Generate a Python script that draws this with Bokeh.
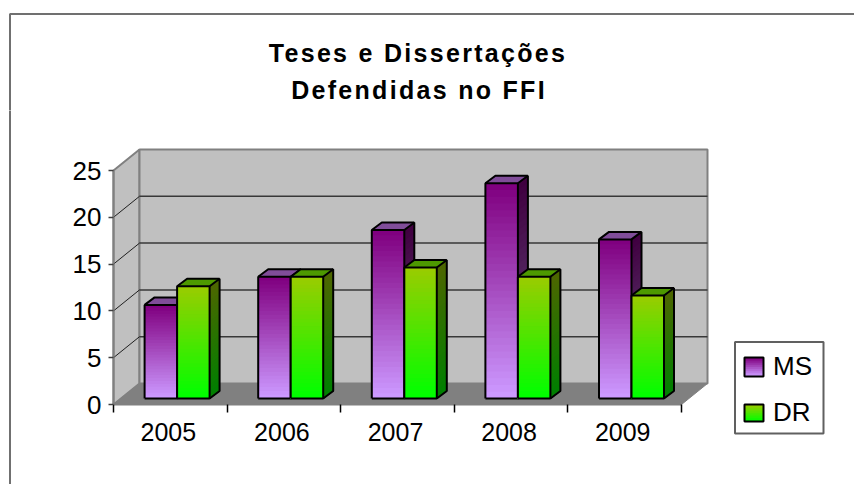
from bokeh.plotting import figure
from bokeh.models import (Range1d, LinearAxis, FixedTicker, Legend, LegendItem, BoxAnnotation, Label)
from bokeh.layouts import column
from bokeh.embed import file_html
from bokeh.resources import INLINE

TITLE_LINES = ["Teses e Dissertações", "Defendidas no FFI"]
YEARS = ["2005", "2006", "2007", "2008", "2009"]
MS = [10, 13, 18, 23, 17]
DR = [12, 13, 14, 13, 11]
Y_TICKS = [0, 5, 10, 15, 20, 25]

FONT = "Liberation Sans"
PX_X, PX_Y = 113.6, 9.36         # pixels per data unit
ORIGIN_X, ORIGIN_Y = 113, 404    # page pixels of the data origin
W, H = 854, 484
TITLE_H = 110

def dx(px): return px / PX_X
def dy(px): return px / PX_Y
def X(px): return (px - ORIGIN_X) / PX_X
def Y(py): return (ORIGIN_Y - py) / PX_Y

def hexmix(a, b, t):
    ca = [int(a[i:i+2], 16) for i in (1, 3, 5)]
    cb = [int(b[i:i+2], 16) for i in (1, 3, 5)]
    return "#%02x%02x%02x" % tuple(round(u + (v - u) * t) for u, v in zip(ca, cb))

def base_fig(h, y_top, y_bottom):
    f = figure(width=W, height=h, output_backend="svg", toolbar_location=None,
               x_range=Range1d(X(0), X(W)), y_range=Range1d(Y(y_bottom), Y(y_top)),
               x_axis_type=None, y_axis_type=None,
               min_border=0, min_border_left=0, min_border_right=0, min_border_top=0, min_border_bottom=0,
               outline_line_color=None, background_fill_color="white", border_fill_color="white")
    f.grid.visible = False
    return f

# title figure (carries the wide letter spacing of the reference title)
t = base_fig(TITLE_H, 0, TITLE_H)
t.styles = {"letter-spacing": "2.3px"}
for line, yc, xc in zip(TITLE_LINES, (52, 89), (394.5, 399)):
    t.add_layout(Label(x=X(xc), y=Y(yc), text=line, text_align="center", text_baseline="middle",
                       text_font=FONT, text_font_style="bold", text_font_size="25px", text_color="black"))
t.add_layout(BoxAnnotation(left=X(9.5), right=X(870), top=Y(13.5), bottom=Y(500), fill_alpha=0,
                           line_color="#707070", line_width=2, line_alpha=1))

p = base_fig(H - TITLE_H, TITLE_H, H)

# walls and floor
WALL_DX, WALL_DY = dx(26), dy(21)
top = 25
p.patch([0, WALL_DX, WALL_DX, 0], [0, WALL_DY, top + WALL_DY, top], fill_color="#c0c0c0", line_color="#808080", line_width=2)
p.patch([WALL_DX, 5 + WALL_DX, 5 + WALL_DX, WALL_DX], [WALL_DY, WALL_DY, top + WALL_DY, top + WALL_DY],
        fill_color="#c0c0c0", line_color="#808080", line_width=2)
p.patch([0, 5, 5 + WALL_DX, WALL_DX], [0, 0, WALL_DY, WALL_DY], fill_color="#808080", line_color="#808080", line_width=1)
for v in Y_TICKS[1:-1]:
    p.line([WALL_DX, 5 + WALL_DX], [v + WALL_DY, v + WALL_DY], line_color="#383838", line_width=1.5)
    p.line([0, WALL_DX], [v, v + WALL_DY], line_color="#202020", line_width=1)

# axes, fixed at the front edge of the floor
yax = LinearAxis(ticker=FixedTicker(ticks=Y_TICKS), bounds=(0, 25), fixed_location=0,
                 axis_line_color="#808080", axis_line_width=2,
                 major_tick_line_color="#404040", major_tick_line_width=1.5,
                 major_tick_out=5, major_tick_in=0, minor_tick_line_color=None,
                 major_label_text_font=FONT, major_label_text_font_size="26px",
                 major_label_text_color="black", major_label_standoff=7)
p.add_layout(yax, "left")
centers = [i + 0.5 for i in range(len(YEARS))]
label_ticks = [c - dx(2) for c in centers]
xax = LinearAxis(ticker=FixedTicker(ticks=label_ticks, minor_ticks=list(range(len(YEARS) + 1))),
                 bounds=(0, len(YEARS)), fixed_location=0,
                 major_label_overrides={c: y for c, y in zip(label_ticks, YEARS)},
                 axis_line_color="#808080", axis_line_width=2,
                 major_tick_line_color=None, major_tick_out=0, major_tick_in=0,
                 minor_tick_line_color="black", minor_tick_out=8, minor_tick_in=0, minor_tick_line_width=1.5,
                 major_label_text_font=FONT, major_label_text_font_size="25px",
                 major_label_text_color="black", major_label_standoff=10)
p.add_layout(xax, "below")

# bars
BAR_W = dx(32.5)
BAR_OX, BAR_OY = dx(6.8), dy(6)
TOP_DX, TOP_DY = dx(10), dy(7.5)
STRIPS = 32
MS_COL = dict(front=("#800080", "#cc99ff"), side=("#400040", "#664d80"), top=("#804d99", "#8c5aa5"))
DR_COL = dict(front=("#99cc00", "#00ff00"), side=("#4d6600", "#008000"), top=("#4d9900", "#59a600"))

def bar(x0, val, col):
    x1 = x0 + BAR_W
    b = BAR_OY
    tp = b + val
    for i in range(STRIPS):
        f = i / (STRIPS - 1)
        ti = tp - val * i / STRIPS
        p.quad(left=x0, right=x1, bottom=b, top=ti, fill_color=hexmix(*col["front"], f), line_color=None)
        p.patch([x1, x1 + TOP_DX, x1 + TOP_DX, x1], [b, b + TOP_DY, ti + TOP_DY, ti],
                fill_color=hexmix(*col["side"], f), line_color=None)
    p.patch([x0, x1, x1 + TOP_DX, x0 + TOP_DX], [tp, tp, tp + TOP_DY, tp + TOP_DY],
            fill_color=col["top"][0], line_color=None)
    p.multi_line([[x0, x1, x1, x0, x0], [x1, x1 + TOP_DX, x1 + TOP_DX, x1],
                  [x0, x0 + TOP_DX, x1 + TOP_DX]],
                 [[b, b, tp, tp, b], [b, b + TOP_DY, tp + TOP_DY, tp], [tp, tp + TOP_DY, tp + TOP_DY]],
                 line_color="black", line_width=2)

for i in range(len(YEARS)):
    mid = centers[i] + BAR_OX
    bar(mid - BAR_W, MS[i], MS_COL)
    bar(mid, DR[i], DR_COL)

# legend box, drawn under the legend's own texts
p.add_layout(BoxAnnotation(left=X(734.5), right=X(823), top=Y(341.5), bottom=Y(433), fill_color="white", fill_alpha=1,
                           line_color="#606060", line_width=2, line_alpha=1))

def swatch(l, tp, r, b, cols):
    n = 10
    for i in range(n):
        y0 = tp + (b - tp) * i / n
        p.add_layout(BoxAnnotation(left=X(l), right=X(r), top=Y(y0), bottom=Y(b),
                                   fill_color=hexmix(*cols, i / (n - 1)), fill_alpha=1, line_color=None))
    p.add_layout(BoxAnnotation(left=X(l), right=X(r), top=Y(tp), bottom=Y(b), fill_alpha=0,
                               line_color="black", line_width=2, line_alpha=1))
swatch(744, 357, 763, 376, MS_COL["front"])
swatch(744, 404, 763, 421, DR_COL["front"])

# the legend's own keys are see-through: the gradient swatches above show through them
ms_key = p.quad(left=[0], right=[0], bottom=[0], top=[0], fill_alpha=0, line_alpha=0)
dr_key = p.quad(left=[0], right=[0], bottom=[0], top=[0], fill_alpha=0, line_alpha=0)
legend = Legend(items=[LegendItem(label="MS", renderers=[ms_key]), LegendItem(label="DR", renderers=[dr_key])],
                location=(744, H - 428), orientation="vertical", margin=0, padding=9, spacing=15,
                glyph_width=19, glyph_height=18, label_standoff=10, label_height=24,
                label_text_font=FONT, label_text_font_size="26px", label_text_color="black",
                border_line_color=None, background_fill_alpha=0)
p.add_layout(legend, "center")

# outer chart border continues down the left edge
p.add_layout(BoxAnnotation(left=X(9.5), right=X(870), top=Y(0), bottom=Y(500), fill_alpha=0,
                           line_color="#707070", line_width=2, line_alpha=1))

page = column(t, p, spacing=0)
open("out.html", "w").write(file_html(page, INLINE))
